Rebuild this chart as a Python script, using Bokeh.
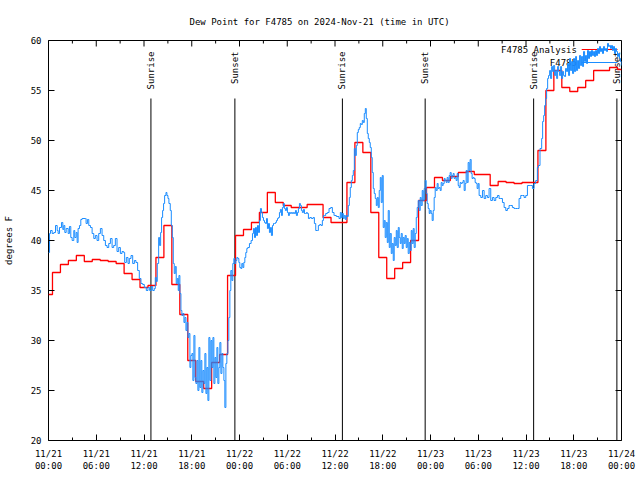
import math
from bokeh.plotting import figure
from bokeh.models import FixedTicker, Range1d
from bokeh.embed import file_html
from bokeh.resources import INLINE
from bokeh.core.properties import value

FONT = "DejaVu Sans Mono"
TITLE = "Dew Point for F4785 on 2024-Nov-21 (time in UTC)"

# hours since 2024-11-21 00:00 UTC
TICK_HOURS = [0, 6, 12, 18, 24, 30, 36, 42, 48, 54, 60, 66, 72]
TICK_LABELS = ["11/21\n00:00", "11/21\n06:00", "11/21\n12:00", "11/21\n18:00",
               "11/22\n00:00", "11/22\n06:00", "11/22\n12:00", "11/22\n18:00",
               "11/23\n00:00", "11/23\n06:00", "11/23\n12:00", "11/23\n18:00",
               "11/24\n00:00"]
MINOR_HOURS = [3, 9, 15, 21, 27, 33, 39, 45, 51, 57, 63, 69]
Y_TICKS = [20, 25, 30, 35, 40, 45, 50, 55, 60]

SUN_HOURS = [12.87, 23.42, 36.93, 47.33, 60.96, 71.42]
SUN_LABELS = ["Sunrise", "Sunset", "Sunrise", "Sunset", "Sunrise", "Sunset"]

LEGEND_LABELS = ["F4785 Analysis", "F4785"]

# hourly analysis (F)
ANL_HOURS = list(range(0, 73))
ANL_F = [34.6, 36.8, 37.6, 38.0, 38.5, 37.9, 38.1, 38.0, 37.9, 37.7,
         36.7, 36.1, 35.3, 35.5, 38.3, 41.5, 35.6, 32.6, 28.0, 25.9,
         25.2, 27.8, 28.6, 36.5, 40.5, 41.1, 41.8, 42.8, 44.8, 43.8,
         43.5, 43.3, 43.3, 43.6, 43.6, 42.3, 41.8, 41.8, 45.8, 49.8,
         48.8, 42.8, 38.3, 36.2, 37.2, 37.8, 40.0, 44.0, 45.3, 46.3,
         46.0, 46.4, 46.8, 46.9, 46.6, 46.6, 45.5, 45.9, 45.8, 45.7,
         45.8, 45.8, 49.0, 55.0, 57.0, 55.3, 54.9, 55.3, 56.0, 57.0,
         57.0, 57.3, 57.1]

# station observations (F)
OBS_HOURS = [
    0.00, 0.13, 0.25, 0.46, 0.67, 0.88, 1.09, 1.21, 1.38, 1.63, 1.80, 1.92, 2.05, 2.22, 2.47, 2.63,
    2.80, 2.97, 3.18, 3.30, 3.47, 3.60, 3.72, 3.89, 4.06, 4.22, 4.64, 4.72, 4.89, 5.06, 5.27, 5.48,
    5.69, 5.89, 6.10, 6.31, 6.52, 6.73, 6.94, 7.15, 7.36, 7.57, 7.78, 7.99, 8.19, 8.40, 8.61, 8.82,
    9.03, 9.24, 9.45, 9.57, 9.78, 9.99, 10.16, 10.37, 10.58, 10.79, 10.99, 11.20, 11.41, 11.62, 11.83,
    12.04, 12.29, 12.50, 12.71, 12.92, 13.09, 13.29, 13.42, 13.55, 13.67, 13.84, 13.96, 14.09, 14.21,
    14.34, 14.46, 14.59, 14.76, 14.88, 15.01, 15.13, 15.30, 15.43, 15.55, 15.68, 15.80, 15.93, 16.05,
    16.18, 16.30, 16.39, 16.51, 16.64, 16.76, 16.89, 17.02, 17.14, 17.27, 17.39, 17.52, 17.64, 17.77,
    17.89, 18.02, 18.14, 18.27, 18.40, 18.52, 18.65, 18.77, 18.90, 19.02, 19.15, 19.27, 19.40, 19.53,
    19.65, 19.78, 19.90, 20.03, 20.15, 20.28, 20.41, 20.53, 20.66, 20.78, 20.91, 21.03, 21.16, 21.28,
    21.41, 21.53, 21.66, 21.79, 21.91, 22.04, 22.16, 22.29, 22.41, 22.54, 22.66, 22.79, 22.91, 23.04,
    23.16, 23.29, 23.42, 23.54, 23.67, 23.79, 23.92, 24.04, 24.17, 24.29, 24.42, 24.54, 24.67, 24.79,
    24.92, 25.04, 25.25, 25.46, 25.63, 25.75, 25.88, 26.01, 26.13, 26.26, 26.38, 26.51, 26.63, 26.76,
    26.88, 27.01, 27.14, 27.26, 27.39, 27.51, 27.64, 27.76, 27.89, 28.01, 28.14, 28.27, 28.39, 28.52,
    28.64, 28.77, 28.89, 29.02, 29.14, 29.27, 29.39, 29.52, 29.64, 29.77, 29.90, 30.02, 30.15, 30.27,
    30.40, 30.52, 30.65, 30.78, 30.90, 31.03, 31.15, 31.28, 31.40, 31.53, 31.65, 31.78, 31.90, 32.03,
    32.16, 32.28, 32.41, 32.53, 32.66, 32.83, 33.04, 33.25, 33.41, 33.58, 33.79, 33.91, 34.08, 34.25,
    34.41, 34.54, 34.66, 34.83, 35.04, 35.25, 35.46, 35.67, 35.88, 35.96, 36.17, 36.38, 36.50, 36.67,
    36.80, 36.92, 37.05, 37.17, 37.30, 37.42, 37.55, 37.67, 37.80, 37.92, 38.05, 38.18, 38.30, 38.43,
    38.55, 38.68, 38.80, 38.93, 39.05, 39.18, 39.30, 39.43, 39.56, 39.68, 39.81, 39.93, 40.06, 40.18,
    40.31, 40.43, 40.56, 40.68, 40.81, 40.93, 41.06, 41.19, 41.31, 41.44, 41.56, 41.69, 41.81, 41.94,
    42.06, 42.19, 42.31, 42.44, 42.57, 42.69, 42.82, 42.94, 43.07, 43.19, 43.32, 43.44, 43.57, 43.70,
    43.82, 43.95, 44.07, 44.20, 44.32, 44.45, 44.57, 44.70, 44.82, 44.95, 45.08, 45.20, 45.33, 45.45,
    45.58, 45.70, 45.83, 45.95, 46.08, 46.21, 46.33, 46.46, 46.58, 46.71, 46.83, 46.96, 47.08, 47.21,
    47.33, 47.46, 47.58, 47.71, 47.84, 47.96, 48.09, 48.21, 48.34, 48.46, 48.59, 48.71, 48.84, 48.96,
    49.09, 49.22, 49.34, 49.47, 49.59, 49.72, 49.84, 49.97, 50.09, 50.22, 50.35, 50.47, 50.60, 50.72,
    50.85, 50.97, 51.10, 51.22, 51.35, 51.48, 51.60, 51.73, 51.85, 51.98, 52.10, 52.23, 52.36, 52.48,
    52.61, 52.73, 52.86, 52.98, 53.11, 53.23, 53.36, 53.48, 53.61, 53.74, 53.86, 53.99, 54.11, 54.32,
    54.53, 54.74, 54.94, 55.15, 55.36, 55.57, 55.78, 55.99, 56.20, 56.41, 56.62, 56.83, 57.04, 57.25,
    57.46, 57.66, 57.87, 58.08, 58.29, 58.50, 58.71, 58.92, 59.13, 59.34, 59.55, 59.76, 59.97, 60.18,
    60.39, 60.60, 60.81, 61.01, 61.22, 61.43, 61.55, 61.76, 61.97, 62.09, 62.22, 62.34, 62.47, 62.59,
    62.72, 62.84, 62.97, 63.09, 63.22, 63.34, 63.47, 63.60, 63.72, 63.85, 63.97, 64.10, 64.22, 64.35,
    64.47, 64.60, 64.72, 64.85, 64.97, 65.10, 65.22, 65.35, 65.47, 65.60, 65.73, 65.85, 65.98, 66.10,
    66.23, 66.35, 66.48, 66.60, 66.73, 66.86, 66.98, 67.11, 67.23, 67.36, 67.48, 67.61, 67.73, 67.86,
    67.98, 68.11, 68.23, 68.36, 68.49, 68.61, 68.74, 68.86, 68.99, 69.11, 69.24, 69.36, 69.49, 69.61,
    69.74, 69.87, 69.99, 70.12, 70.24, 70.37, 70.49, 70.62, 70.74, 70.87, 70.99, 71.12, 71.24, 71.37,
    71.50, 71.62, 71.75, 71.87, 71.99]
OBS_F = [
    38.8, 40.7, 41.0, 40.7, 40.8, 41.5, 41.0, 40.7, 41.3, 41.8, 41.1, 41.5, 40.8, 41.2, 40.7, 41.4,
    40.3, 40.0, 41.0, 40.3, 40.8, 39.8, 41.2, 41.5, 42.1, 42.2, 42.2, 41.7, 42.1, 41.5, 41.3, 40.7,
    40.2, 40.5, 40.0, 40.7, 41.2, 40.5, 40.0, 39.5, 39.3, 39.7, 40.2, 39.3, 39.5, 40.2, 38.9, 39.3,
    38.7, 38.9, 38.8, 37.8, 38.3, 37.7, 38.2, 38.5, 37.7, 38.0, 37.8, 37.0, 36.2, 35.7, 35.6,
    35.3, 35.0, 35.3, 35.0, 35.4, 35.0, 35.2, 36.3, 35.9, 37.7, 40.3, 39.5, 40.8, 42.3,
    43.0, 43.7, 44.5, 44.8, 44.5, 44.2, 43.7, 43.0, 41.5, 40.3, 37.7, 36.7, 37.4, 35.7,
    36.2, 35.0, 36.5, 34.7, 33.0, 32.5, 32.7, 31.8, 32.3, 31.0, 31.8, 30.3, 30.7, 27.3,
    28.5, 28.7, 26.0, 30.5, 26.3, 25.7, 28.0, 25.0, 29.3, 25.3, 28.0, 24.8, 27.0, 25.7,
    28.7, 24.7, 27.3, 24.0, 30.3, 26.0, 30.0, 27.3, 30.3, 25.7, 28.3, 26.3, 29.3, 25.7,
    27.3, 29.8, 26.7, 28.7, 27.3, 26.0, 23.3, 27.7, 28.7, 30.0, 32.3, 35.0, 37.0, 36.0,
    37.7, 38.2, 37.7, 38.0, 38.3, 38.2, 37.8, 37.3, 37.2, 37.7, 37.3, 37.8, 38.3, 38.8,
    39.2, 39.3, 39.7, 40.0, 40.7, 41.2, 40.3, 41.3, 40.5, 41.5, 40.8, 42.0, 43.2, 42.8,
    42.3, 42.0, 41.8, 41.7, 42.2, 41.2, 41.7, 40.8, 41.3, 40.5, 41.5, 41.7, 41.7, 41.8,
    42.0, 42.2, 42.3, 42.8, 43.1, 42.5, 43.3, 43.7, 43.2, 43.0, 43.3, 42.8, 42.5, 42.8,
    42.7, 42.8, 42.7, 42.8, 42.7, 43.0, 42.5, 42.8, 43.2, 43.7, 43.5, 43.0, 42.8, 43.1,
    42.7, 42.7, 42.8, 42.7, 42.2, 42.3, 42.2, 42.3, 41.7, 41.0, 41.0, 41.5, 41.6, 41.5,
    42.0, 42.5, 42.5, 42.7, 42.8, 43.2, 43.3, 42.8, 42.5, 42.5, 42.4, 42.4, 42.2, 42.8,
    42.3, 42.7, 42.2, 42.5, 42.1, 42.5, 42.4, 43.5, 44.3, 45.3, 46.0, 46.5, 47.0, 49.2,
    48.5, 49.5, 50.8, 51.1, 51.3, 51.7, 51.6, 52.0, 51.8, 52.7, 53.2, 52.2, 50.7, 50.2,
    49.8, 49.3, 48.3, 46.8, 45.2, 44.7, 44.2, 43.5, 44.3, 43.3, 45.0, 46.3, 43.8, 46.5,
    41.3, 42.0, 40.3, 41.8, 39.8, 43.0, 39.3, 40.7, 38.7, 39.7, 38.0, 40.3, 39.5, 41.0,
    39.3, 41.3, 40.3, 39.7, 40.7, 39.2, 40.3, 39.7, 40.5, 39.3, 40.2, 38.7, 39.8, 39.0,
    41.0, 39.7, 41.2, 39.3, 40.7, 42.3, 43.3, 44.0, 43.0, 44.3, 43.5, 45.0, 44.0, 45.2,
    46.0, 44.7, 43.7, 43.2, 42.7, 43.0, 42.7, 42.0, 43.0, 44.3, 45.3, 45.0, 45.7, 45.2,
    45.3, 45.0, 45.8, 45.5, 45.7, 46.2, 46.0, 45.8, 46.3, 45.8, 46.5, 46.8, 46.2, 46.5,
    46.7, 46.2, 46.3, 46.0, 46.7, 45.5, 45.3, 45.8, 45.7, 45.8, 46.0, 45.0, 45.7, 47.0,
    45.8, 47.8, 47.0, 48.1, 46.7, 46.2, 46.3, 46.2, 45.8, 45.7, 45.2, 45.7, 44.5, 44.3,
    45.0, 44.2, 44.5, 44.3, 45.2, 44.0, 44.3, 44.0, 44.3, 44.5, 44.2, 44.2, 43.8, 43.3,
    43.0, 43.2, 43.5, 43.5, 43.3, 43.2, 43.2, 43.2, 44.2, 44.5, 44.5, 44.3, 44.5, 45.5,
    45.5, 45.5, 45.2, 45.7, 46.0, 47.3, 47.5, 49.2, 50.2, 51.9, 52.5, 53.5, 54.2, 55.2,
    56.2, 56.5, 57.0, 56.2, 57.4, 56.9, 57.5, 56.5, 57.0, 56.2, 57.4, 56.9, 56.5, 57.4,
    56.2, 56.9, 56.5, 56.4, 57.2, 56.9, 57.7, 56.5, 58.2, 57.0, 57.9, 56.7, 58.2, 56.9,
    58.4, 57.0, 58.0, 57.2, 58.5, 57.5, 58.4, 57.4, 58.9, 57.9, 58.5, 57.7, 59.0, 58.2,
    58.9, 58.4, 59.0, 58.5, 58.9, 58.4, 59.0, 58.5, 59.2, 58.7, 59.4, 58.9, 59.2, 58.7,
    59.4, 59.0, 59.2, 58.9, 59.7, 59.4, 59.5, 59.2, 59.5, 59.0, 59.4, 58.7, 59.2, 58.9,
    58.4, 58.7, 58.2, 57.9, 57.5]

RED = "#ff0000"
BLUE = "#1a8cff"

X0, X1 = TICK_HOURS[0], TICK_HOURS[-1]
Y0, Y1 = Y_TICKS[0], Y_TICKS[-1]

p = figure(width=640, height=480, output_backend="svg", toolbar_location=None,
           x_range=Range1d(X0, X1), y_range=Range1d(Y0, Y1),
           title=TITLE,
           min_border_left=47, min_border_right=19, min_border_top=40, min_border_bottom=40)
p.xgrid.visible = False
p.ygrid.visible = False
p.outline_line_color = "black"
p.outline_line_alpha = 1.0
p.outline_line_width = 1
p.background_fill_color = "white"
p.border_fill_color = "white"

p.title.align = "left"
p.title.offset = 141
p.title.standoff = 27
p.title.text_font = FONT
p.title.text_font_size = "9px"
p.title.text_font_style = "normal"
p.title.text_color = "black"

def style_axis(ax):
    ax.axis_line_color = None
    ax.major_tick_in = 6
    ax.major_tick_out = 0
    ax.minor_tick_in = 3
    ax.minor_tick_out = 0
    ax.major_tick_line_color = "black"
    ax.minor_tick_line_color = "black"
    ax.major_label_text_font = FONT
    ax.major_label_text_color = "black"
    ax.major_label_text_font_size = "9px"

xa = p.xaxis[0]
xa.ticker = FixedTicker(ticks=TICK_HOURS, minor_ticks=MINOR_HOURS)
xa.major_label_overrides = {h: lab for h, lab in zip(TICK_HOURS, TICK_LABELS)}
style_axis(xa)
xa.major_label_standoff = 8

ya = p.yaxis[0]
ya.ticker = FixedTicker(ticks=Y_TICKS, minor_ticks=[])
style_axis(ya)
ya.major_label_standoff = 7
ya.axis_label = "degrees F"
ya.axis_label_text_font = FONT
ya.axis_label_text_font_size = "9px"
ya.axis_label_text_font_style = "normal"
ya.axis_label_text_color = "black"
ya.axis_label_standoff = 14

# mirrored inward ticks on the top and right frame edges (6 px major, 3 px minor)
TICK_DY_MAJOR = (Y1 - Y0) * 6 / 400
TICK_DY_MINOR = (Y1 - Y0) * 3 / 400
TICK_DX_MAJOR = (X1 - X0) * 6 / 574
p.segment(x0=TICK_HOURS, y0=[Y1] * len(TICK_HOURS), x1=TICK_HOURS,
          y1=[Y1 - TICK_DY_MAJOR] * len(TICK_HOURS), line_color="black", line_width=1)
p.segment(x0=MINOR_HOURS, y0=[Y1] * len(MINOR_HOURS), x1=MINOR_HOURS,
          y1=[Y1 - TICK_DY_MINOR] * len(MINOR_HOURS), line_color="black", line_width=1)
p.segment(x0=[X1] * len(Y_TICKS), y0=Y_TICKS, x1=[X1 - TICK_DX_MAJOR] * len(Y_TICKS),
          y1=Y_TICKS, line_color="black", line_width=1)

# sunrise / sunset markers
p.segment(x0=SUN_HOURS, y0=[Y0] * len(SUN_HOURS), x1=SUN_HOURS,
          y1=[54.2] * len(SUN_HOURS), line_color="black", line_width=1)
p.text(x=SUN_HOURS, y=[58.9] * len(SUN_HOURS), text=SUN_LABELS, angle=math.pi / 2,
       text_align="right", text_baseline="middle", text_font=value(FONT),
       text_font_size="9px", text_color="black")

# legend (text left of sample line, gnuplot style)
p.text(x=[66.4, 66.4], y=[59.1, 57.8], text=LEGEND_LABELS, text_align="right",
       text_baseline="middle", text_font=value(FONT), text_font_size="9px",
       text_color="black")
p.segment(x0=[67.0, 67.0], y0=[59.1, 57.8], x1=[71.5, 71.5], y1=[59.1, 57.8],
          line_color=[RED, BLUE], line_width=1.2)

# data
p.step(x=ANL_HOURS, y=ANL_F, mode="center", line_color=RED, line_width=1.3)
p.step(x=OBS_HOURS, y=OBS_F, mode="after", line_color=BLUE, line_width=1.0)

open("out.html", "w").write(file_html(p, INLINE))
